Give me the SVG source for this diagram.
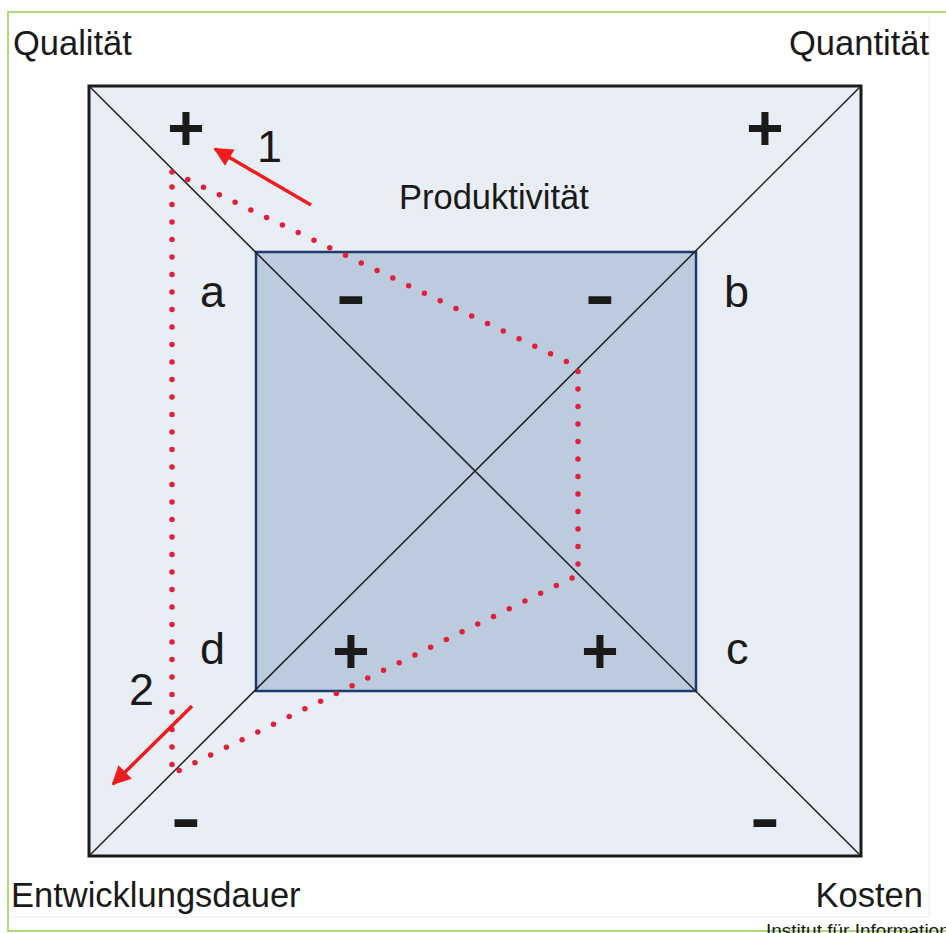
<svg xmlns="http://www.w3.org/2000/svg" width="946" height="933" viewBox="0 0 946 933">
  <style>
    .lbl { font-family: "Liberation Sans", Arial, sans-serif; fill: #1a1a1a; }
    .corner { font-size: 34.5px; }
    .letter { font-size: 45px; }
    .sign { font-size: 64px; font-weight: bold; text-anchor: middle; }
    .diag { stroke: #222; stroke-width: 1.5; fill: none; }
    .dots { stroke: #e01f3d; stroke-width: 5.5; stroke-linecap: round; stroke-dasharray: 0 17.5; fill: none; stroke-linejoin: round; }
    .arrow { stroke: #ee1c1c; stroke-width: 3.5; fill: none; marker-end: url(#head); }
  </style>
  <defs>
    <marker id="head" viewBox="0 0 10 10" refX="9" refY="5" markerUnits="userSpaceOnUse" markerWidth="24" markerHeight="19" orient="auto">
      <path d="M0,0 L10,5 L0,10 z" fill="#ee1c1c"/>
    </marker>
  </defs>

  <rect x="0" y="0" width="946" height="933" fill="#ffffff"/>
  <g id="frame">
    <path d="M946,12 H8 V931 H946" fill="none" stroke="#92d050" stroke-width="1.5"/>
    <path d="M929,16 V917 H10" fill="none" stroke="#ececec" stroke-width="1"/>
  </g>

  <g id="outer-square">
    <rect x="89" y="86" width="772" height="770" fill="#e9edf5" stroke="#1a1a1a" stroke-width="3"/>
  </g>
  <g id="inner-square">
    <rect x="256" y="252" width="440" height="439" fill="#bccbde" stroke="#1f3a6e" stroke-width="2.5"/>
  </g>

  <g id="connectors">
    <line class="diag" x1="89" y1="86" x2="861" y2="856"/>
    <line class="diag" x1="861" y1="86" x2="89" y2="856"/>
    <path class="dots" d="M172,172 L578,367 L578,575 L172,774 Z"/>
    <line class="arrow" x1="311" y1="205" x2="215" y2="149"/>
    <line class="arrow" x1="192" y1="706" x2="113" y2="784"/>
  </g>

  <g id="corner-labels">
    <text class="lbl corner" x="13" y="55">Qualität</text>
    <text class="lbl corner" x="929" y="55" text-anchor="end">Quantität</text>
    <text class="lbl corner" x="11" y="907">Entwicklungsdauer</text>
    <text class="lbl corner" x="923" y="907" text-anchor="end">Kosten</text>
  </g>

  <g id="productivity">
    <text class="lbl corner" x="399" y="209">Produktivität</text>
  </g>

  <g id="letters">
    <text class="lbl letter" x="200" y="307">a</text>
    <text class="lbl letter" x="724" y="307">b</text>
    <text class="lbl letter" x="726" y="664">c</text>
    <text class="lbl letter" x="200" y="664">d</text>
    <text class="lbl letter" x="257" y="162">1</text>
    <text class="lbl letter" x="129" y="705">2</text>
  </g>

  <g id="signs">
    <text class="lbl sign" x="186" y="150">+</text>
    <text class="lbl sign" x="765" y="150">+</text>
    <text class="lbl sign" x="351" y="673">+</text>
    <text class="lbl sign" x="600" y="673">+</text>
    <text class="lbl sign" transform="translate(351,317) scale(1.4,1)">-</text>
    <text class="lbl sign" transform="translate(600,317) scale(1.4,1)">-</text>
    <text class="lbl sign" transform="translate(186,840) scale(1.4,1)">-</text>
    <text class="lbl sign" transform="translate(765,840) scale(1.4,1)">-</text>
  </g>

  <g id="footer">
    <text class="lbl" x="766" y="937" font-size="19">Institut für Information</text>
  </g>
</svg>
